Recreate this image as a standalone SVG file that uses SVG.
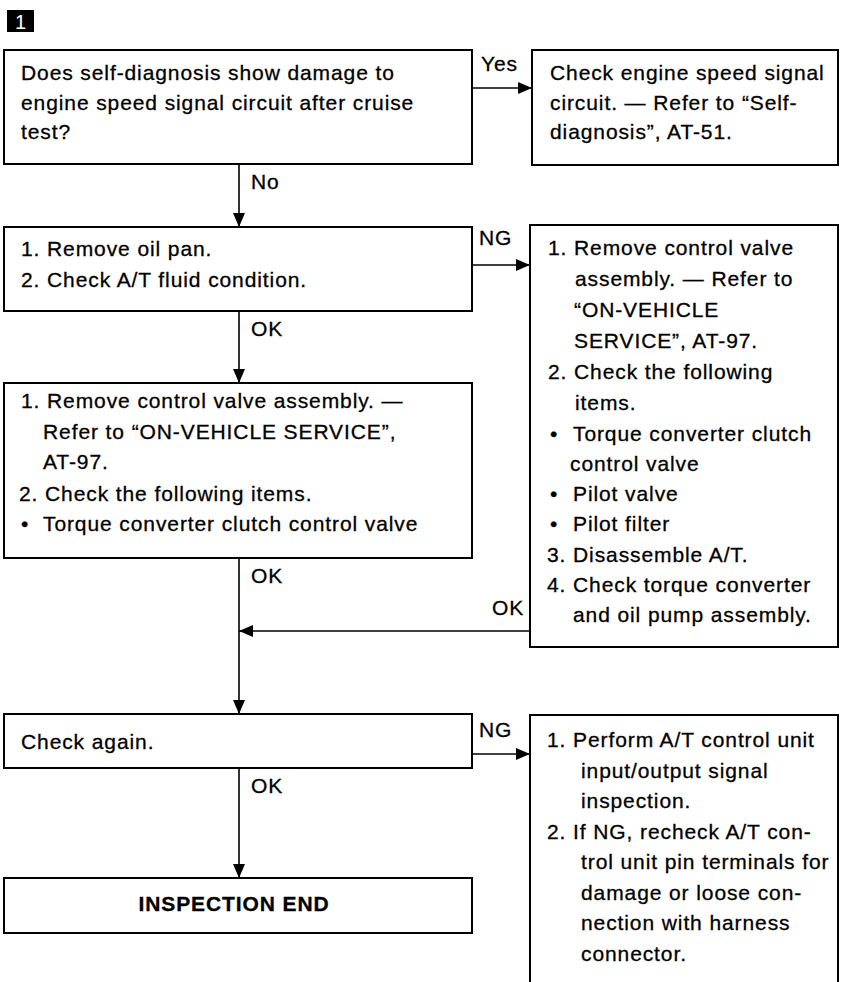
<svg xmlns="http://www.w3.org/2000/svg" width="841" height="982" viewBox="0 0 841 982">
<style>
.box{fill:#fff;stroke:#000;stroke-width:2}
.t{font-family:"Liberation Sans",Arial,Helvetica,sans-serif;font-size:21px;letter-spacing:0.9px;fill:#000;stroke:#000;stroke-width:0.3}
.b{font-weight:bold}
.c{stroke:#000;stroke-width:1.6;fill:none}
</style>
<defs>
<marker id="ah" markerUnits="userSpaceOnUse" markerWidth="14" markerHeight="12" refX="14" refY="6" orient="auto">
<path d="M0,0 L14,6 L0,12 Z" fill="#000"/>
</marker>
</defs>
<rect width="841" height="982" fill="#fff"/>

<g id="marker">
<rect x="7" y="10" width="27" height="22" fill="#000"/>
<text x="20.5" y="29" text-anchor="middle" font-family="Liberation Sans,Arial,sans-serif" font-size="20" fill="#fff">1</text>
</g>

<g id="connectors">
<path class="c" d="M472,88 H532" marker-end="url(#ah)"/>
<path class="c" d="M239,164 V227" marker-end="url(#ah)"/>
<path class="c" d="M472,265 H530" marker-end="url(#ah)"/>
<path class="c" d="M239,311 V383" marker-end="url(#ah)"/>
<path class="c" d="M239,558 V714" marker-end="url(#ah)"/>
<path class="c" d="M530,631 H239" marker-end="url(#ah)"/>
<path class="c" d="M472,754 H530" marker-end="url(#ah)"/>
<path class="c" d="M239,768 V878" marker-end="url(#ah)"/>
<text class="t" x="481" y="71">Yes</text>
<text class="t" x="251" y="189">No</text>
<text class="t" x="479" y="245">NG</text>
<text class="t" x="251" y="336">OK</text>
<text class="t" x="251" y="583">OK</text>
<text class="t" x="492" y="615">OK</text>
<text class="t" x="479" y="737">NG</text>
<text class="t" x="251" y="793">OK</text>
</g>

<g id="q1">
<rect class="box" x="4" y="50" width="468" height="114"/>
<text class="t" x="21" y="80">Does self-diagnosis show damage to</text>
<text class="t" x="21" y="110">engine speed signal circuit after cruise</text>
<text class="t" x="21" y="139">test?</text>
</g>

<g id="yes-box">
<rect class="box" x="532" y="50" width="306" height="115"/>
<text class="t" x="550" y="80">Check engine speed signal</text>
<text class="t" x="550" y="110">circuit. — Refer to “Self-</text>
<text class="t" x="550" y="139">diagnosis”, AT-51.</text>
</g>

<g id="oil-pan">
<rect class="box" x="4" y="227" width="468" height="84"/>
<text class="t" x="21" y="256">1. Remove oil pan.</text>
<text class="t" x="21" y="287">2. Check A/T fluid condition.</text>
</g>

<g id="ng-box1">
<rect class="box" x="530" y="225" width="308" height="422"/>
<text class="t" x="548" y="255">1. Remove control valve</text>
<text class="t" x="575" y="286">assembly. — Refer to</text>
<text class="t" x="574" y="317">“ON-VEHICLE</text>
<text class="t" x="574" y="348">SERVICE”, AT-97.</text>
<text class="t" x="548" y="379">2. Check the following</text>
<text class="t" x="575" y="410">items.</text>
<text class="t" x="550" y="441">•<tspan x="573">Torque converter clutch</tspan></text>
<text class="t" x="570" y="471">control valve</text>
<text class="t" x="550" y="501">•<tspan x="573">Pilot valve</tspan></text>
<text class="t" x="550" y="531">•<tspan x="573">Pilot filter</tspan></text>
<text class="t" x="547" y="562">3. Disassemble A/T.</text>
<text class="t" x="547" y="592">4. Check torque converter</text>
<text class="t" x="573" y="622">and oil pump assembly.</text>
</g>

<g id="valve">
<rect class="box" x="4" y="383" width="468" height="175"/>
<text class="t" x="21" y="408">1. Remove control valve assembly. —</text>
<text class="t" x="43" y="438.5">Refer to “ON-VEHICLE SERVICE”,</text>
<text class="t" x="43" y="469">AT-97.</text>
<text class="t" x="19" y="500.5">2. Check the following items.</text>
<text class="t" x="21" y="531">•<tspan x="43">Torque converter clutch control valve</tspan></text>
</g>

<g id="check-again">
<rect class="box" x="4" y="714" width="468" height="54"/>
<text class="t" x="21" y="749">Check again.</text>
</g>

<g id="ng-box2">
<path class="box" d="M530,982 V715 H838 V982"/>
<text class="t" x="547" y="747">1. Perform A/T control unit</text>
<text class="t" x="581" y="777.5">input/output signal</text>
<text class="t" x="581" y="808">inspection.</text>
<text class="t" x="547" y="838.5">2. If NG, recheck A/T con-</text>
<text class="t" x="581" y="869">trol unit pin terminals for</text>
<text class="t" x="581" y="899.5">damage or loose con-</text>
<text class="t" x="581" y="930">nection with harness</text>
<text class="t" x="581" y="960.5">connector.</text>
</g>

<g id="end">
<rect class="box" x="4" y="878" width="468" height="55"/>
<text class="t b" x="234" y="911" text-anchor="middle">INSPECTION END</text>
</g>
</svg>
